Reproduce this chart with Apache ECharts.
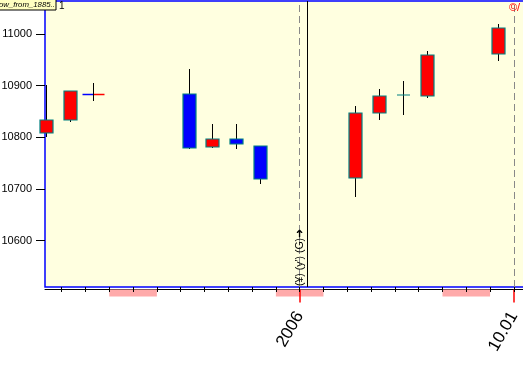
<!DOCTYPE html>
<html>
<head>
<meta charset="utf-8">
<script src="https://cdn.jsdelivr.net/npm/echarts@6/dist/echarts.min.js"></script>
<style>html,body{margin:0;padding:0;background:#fff;}#c{width:523px;height:368px;}</style>
</head>
<body>
<div id="c"></div>
<script>
// ---- data (Dec 21 2005 .. Jan 9 2006, day slots incl. weekends/holidays) ----
var candleIndex = [0, 1, 2, 6, 7, 8, 9, 13, 14, 15, 16, 19];
var opens  = [10808, 10834, 10884, 10884, 10781, 10797, 10783, 10721, 10847, 10881, 10879, 10961];
var closes = [10834, 10889, 10884, 10779, 10797, 10787, 10719, 10847, 10880, 10882, 10959, 11012];
var lows   = [10800, 10829, 10870, 10777, 10779, 10778, 10710, 10684, 10834, 10842, 10876, 10948];
var highs  = [10900, 10890, 10904, 10931, 10825, 10825, 10783, 10861, 10893, 10908, 10966, 11019];
var markerIndex = [11];                 // solid vertical marker (Jan 2)
var tickLabelIndex = [10, 19];          // day-boundary ticks carrying labels
var tickLabelText = ['2006', '10.01'];
var bandStarts = [2, 9, 16];            // weekend bands (tick units)
var bandEnds   = [4, 11, 18];
var yMin = 10510, yMax = 11063.5;
var yLabelMin = 10600, yLabelMax = 11000, yStep = 100;

// ---- layout ----
var pxPerDay = 23.8;
var mainLeft = 45, mainTop = 1, mainHeight = 286, mainWidth = 500;
var xMin = -0.034, xMax = xMin + mainWidth / pxPerDay;
var tickOffset = 0.667;   // day boundary relative to candle position
var tickCount = 20;
var tickLeft = mainLeft + (tickOffset - xMin) * pxPerDay;
var yScale = mainHeight / (yMax - yMin);
var lblTop = mainTop + (yMax - yLabelMax) * yScale;
var lblHeight = (yLabelMax - yLabelMin) * yScale;
var axisY = mainTop + mainHeight + 2;

var candleData = candleIndex.map(function (x, i) { return [x, opens[i], closes[i], lows[i], highs[i]]; });

function renderCandle(params, api) {
  var idx = api.value(0), o = api.value(1), c = api.value(2), l = api.value(3), h = api.value(4);
  var pO = api.coord([idx, o]), pC = api.coord([idx, c]), pL = api.coord([idx, l]), pH = api.coord([idx, h]);
  var unit = api.size([1, 0])[0];
  var cx = Math.round(pO[0]) + 0.5;
  var bw = Math.round(unit * 0.55);
  var wick = { type: 'line', shape: { x1: cx, y1: Math.round(pH[1]), x2: cx, y2: Math.round(pL[1]) }, style: { stroke: '#000', lineWidth: 1 } };
  var children = [];
  if (o === c) {
    var y = Math.round(pO[1]) + 0.5, half = Math.round(unit * 0.46);
    children.push({ type: 'line', shape: { x1: cx - half, y1: y, x2: cx, y2: y }, style: { stroke: '#0000ff', lineWidth: 1.5 } });
    children.push({ type: 'line', shape: { x1: cx, y1: y, x2: cx + half, y2: y }, style: { stroke: '#ff0000', lineWidth: 1.5 } });
    children.push(wick);
  } else {
    children.push(wick);
    var top = Math.round(Math.min(pO[1], pC[1])), bot = Math.round(Math.max(pO[1], pC[1]));
    children.push({ type: 'rect', shape: { x: Math.round(cx - bw / 2), y: top, width: bw, height: Math.max(bot - top, 0) },
      style: { fill: c > o ? '#ff0000' : '#0000ff', stroke: '#008080', lineWidth: 1.2 } });
  }
  return { type: 'group', children: children };
}

var chart = echarts.init(document.getElementById('c'), null, { renderer: 'canvas' });
var font = 'Liberation Sans, Arial, sans-serif';
var option = {
  animation: false,
  grid: [
    { left: mainLeft, top: mainTop, width: mainWidth, height: mainHeight, show: true, backgroundColor: '#ffffe0', borderColor: '#0000ff', borderWidth: 1.5, z: 0, outerBoundsMode: 'none', containLabel: false },
    { left: mainLeft, top: lblTop, width: mainWidth, height: lblHeight, outerBoundsMode: 'none', containLabel: false },
    { left: tickLeft, top: mainTop, width: tickCount * pxPerDay, height: mainHeight, outerBoundsMode: 'none', containLabel: false },
    { left: tickLeft, top: axisY + 0.5, width: tickCount * pxPerDay, height: 13, outerBoundsMode: 'none', containLabel: false }
  ],
  xAxis: [
    { gridIndex: 0, type: 'value', min: xMin, max: xMax, offset: 2, splitLine: { show: false }, axisTick: { show: false }, axisLabel: { show: false },
      axisLine: { show: true, lineStyle: { color: '#000', width: 1 } } },
    { gridIndex: 1, type: 'value', min: 0, max: 1, show: false },
    { gridIndex: 2, type: 'value', min: 0, max: tickCount, interval: 1, offset: 2, z: 10, splitLine: { show: false },
      axisLine: { show: false },
      axisTick: { show: true, length: 5, lineStyle: { color: '#000', width: 1 } },
      axisLabel: { show: true, rotate: 60, margin: 24, fontSize: 17, fontFamily: font, color: '#000', showMinLabel: true, showMaxLabel: true, hideOverlap: false,
        formatter: function (v) { var k = tickLabelIndex.indexOf(Math.round(v)); return k >= 0 ? tickLabelText[k] : ''; } } },
    { gridIndex: 3, type: 'value', min: 0, max: tickCount, show: false }
  ],
  yAxis: [
    { gridIndex: 0, type: 'value', min: yMin, max: yMax, show: false },
    { gridIndex: 1, type: 'value', min: yLabelMin, max: yLabelMax, interval: yStep, splitLine: { show: false },
      axisLine: { show: false }, axisTick: { show: true, length: 9, lineStyle: { color: '#000', width: 1 } },
      axisLabel: { margin: 13, fontSize: 11, fontFamily: font, color: '#000', formatter: function (v) { return String(v); } } },
    { gridIndex: 2, type: 'value', min: 0, max: 1, show: false },
    { gridIndex: 3, type: 'value', min: 0, max: 13, inverse: true, show: false }
  ],
  series: [
    { type: 'line', xAxisIndex: 3, yAxisIndex: 3, data: [], z: 1, silent: true,
      markArea: { silent: true, itemStyle: { color: '#ffaaaa', opacity: 1 },
        data: bandStarts.map(function (s, i) { return [{ xAxis: s, yAxis: 0 }, { xAxis: bandEnds[i], yAxis: 7 }]; }) },
      markLine: { silent: true, symbol: 'none', label: { show: false }, lineStyle: { color: '#ff0000', width: 1.5, type: 'solid' },
        data: tickLabelIndex.map(function (t) { return [{ coord: [t, 0] }, { coord: [t, 13] }]; }) } },
    { type: 'line', xAxisIndex: 2, yAxisIndex: 2, data: [], z: 2, silent: true,
      markLine: { silent: true, symbol: 'none', label: { show: false }, lineStyle: { color: '#888888', width: 1, type: [7, 4] },
        data: tickLabelIndex.map(function (t) { return { xAxis: t }; }) } },
    { type: 'line', xAxisIndex: 0, yAxisIndex: 0, data: [], z: 2, silent: true,
      markLine: { silent: true, symbol: 'none', label: { show: false }, lineStyle: { color: '#000', width: 1, type: 'solid' },
        data: markerIndex.map(function (t) { return { xAxis: t }; }) } },
    { type: 'custom', xAxisIndex: 0, yAxisIndex: 0, clip: false, z: 5, renderItem: renderCandle,
      encode: { x: 0, y: [1, 2, 3, 4] }, data: candleData }
  ],
  graphic: [
    { type: 'rect', z: 100, shape: { x: -1, y: -1, width: 57, height: 11 }, style: { fill: '#ffffc0', stroke: '#000', lineWidth: 1 } },
    { type: 'text', z: 101, x: -1, y: 4.5, style: { text: 'ow_from_1885..', font: 'italic 7.8px ' + font, fill: '#000', verticalAlign: 'middle' } },
    { type: 'text', z: 101, x: 59, y: 6, style: { text: '1', font: '10px ' + font, fill: '#000', verticalAlign: 'middle' } },
    { type: 'text', z: 101, x: 509, y: 8, style: { text: '©/', font: '11px ' + font, fill: '#ff0000', verticalAlign: 'middle' } },
    { type: 'text', z: 101, x: 300.5, y: 286, rotation: Math.PI / 2, style: { text: '(¥) (y\') (G)➜', font: '10.5px ' + font, fill: '#000', align: 'left', verticalAlign: 'middle' } }
  ]
};
chart.setOption(option);
</script>
</body>
</html>
